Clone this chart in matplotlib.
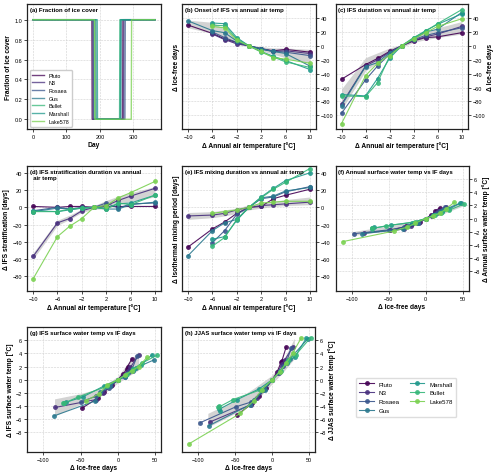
import numpy as np
import matplotlib.pyplot as plt

plt.rcParams['font.family'] = ['Liberation Sans', 'DejaVu Sans']

nan = np.nan

lakes = ['Pluto', 'N3', 'Rosaea', 'Gus', 'Marshall', 'Bullet', 'Lake578']
lakes_a = ['Pluto', 'N3', 'Rosaea', 'Gus', 'Bullet', 'Marshall', 'Lake578']
colors = dict(zip(lakes, plt.cm.viridis(np.linspace(0, 0.8, 7))))

temp_change = [-10, -6, -4, -2, 0, 2, 4, 6, 10]

# (a) ice-off / ice-on day per lake
ice_off = {'Pluto': 176, 'N3': 179, 'Rosaea': 181, 'Gus': 188,
           'Bullet': 185, 'Marshall': 192, 'Lake578': 184}
ice_on = {'Pluto': 268, 'N3': 271, 'Rosaea': 275, 'Gus': 263,
          'Bullet': 259, 'Marshall': 261, 'Lake578': 294}

# (b) onset of IFS
onset = {'Pluto':    [30, 18, 10, 5, 0, -4, -7, -5, -9],
         'N3':       [nan, 17, 9, 3, 0, -4, -8, -7, -11],
         'Rosaea':   [nan, 20, 12, 5, 0, -5, -8, -9, -14],
         'Gus':      [36, 22, 19, 7, 0, -4, -8, -11, -29],
         'Marshall': [nan, 33, 32, 12, 0, -8, -15, -21, -34],
         'Bullet':   [nan, 30, 29, 10, 0, -9, -16, -23, -31],
         'Lake578':  [nan, 28, 26, 8, 0, -8, -17, -19, -25]}

# (c) IFS duration = delta ice-free days
duration = {'Pluto':    [-48, -27, -18, -8, 0, 7, 12, 13, 19],
            'N3':       [-84, -29, -20, -9, 0, 8, 13, 17, 28],
            'Rosaea':   [-97, -49, -29, -12, 0, 9, 15, 19, 26],
            'Gus':      [-86, -30, -24, -10, 0, 10, 20, 24, 48],
            'Marshall': [-70, -72, -47, -18, 0, 11, 22, 31, 46],
            'Bullet':   [-72, -73, -53, -15, 0, 12, 21, 32, 52],
            'Lake578':  [-112, -43, -25, -14, 0, 10, 19, 28, 39]}

# (d) IFS stratification duration
strat = {'Pluto':    [1, 0, 1, 1, 0, 1, 1, 1, 1],
         'N3':       [-57, -18, -13, -4, 0, 2, 8, 13, 22],
         'Rosaea':   [-4, 0, -2, 0, 0, 5, -1, 4, 5],
         'Gus':      [-5, -1, -2, -1, 0, -2, -2, 3, 6],
         'Marshall': [-4, -5, -3, -1, 0, -1, 4, 5, 14],
         'Bullet':   [-5, -5, -2, -1, 0, -2, 5, 3, 14],
         'Lake578':  [-83, -34, -22, -13, 0, 2, 11, 17, 30]}

# (e) isothermal mixing period
mixing = {'Pluto':    [-46, -25, -17, -7, 0, 1, 10, 14, 21],
          'N3':       [-10, -9, -7, -3, 0, 2, 3, 4, 6],
          'Rosaea':   [nan, -41, -27, -8, 0, 10, 12, 18, 24],
          'Gus':      [-56, -27, -18, -14, 0, 11, 13, 19, 23],
          'Marshall': [nan, -37, -34, -15, 0, 12, 22, 31, 40],
          'Bullet':   [nan, -45, -35, -14, 0, 11, 21, 29, 45],
          'Lake578':  [nan, -7, -5, -3, 0, 5, 6, 7, 7]}

# (f) annual surface water temp
annual_wt = {'Pluto':    [-1.8, -1.2, -0.9, -0.5, 0, 0.5, 0.9, 1.2, 1.6],
             'N3':       [-2.2, -1.6, -1.2, -0.6, 0, 0.4, 0.8, 1.2, 1.8],
             'Rosaea':   [-2.3, -1.7, -1.3, -0.6, 0, 0.4, 0.9, 1.2, 1.8],
             'Gus':      [-2.3, -1.6, -1.2, -0.6, 0, 0.5, 1.0, 1.3, 2.4],
             'Marshall': [-1.3, -1.5, -1.0, -0.6, 0, 0.5, 1.0, 1.4, 2.3],
             'Bullet':   [-1.6, -1.5, -1.1, -0.5, 0, 0.5, 0.9, 1.3, 2.2],
             'Lake578':  [-3.5, -1.9, -1.3, -0.7, 0, 0.4, 0.8, 1.5, 2.5]}

# (g) IFS surface water temp
ifs_wt = {'Pluto':    [-4.3, -2.8, -1.8, -0.8, 0, 0.9, 1.6, 2.0, 3.2],
          'N3':       [-4.2, -3.0, -2.0, -0.9, 0, 0.8, 1.4, 1.9, 3.8],
          'Rosaea':   [nan, -3.3, -2.5, -1.2, 0, 0.5, 1.2, 1.6, 3.6],
          'Gus':      [-5.5, -3.2, -1.9, -0.9, 0, 0.4, 1.3, 1.8, 3.0],
          'Marshall': [-3.4, -3.5, -2.6, -0.9, 0, 0.8, 1.6, 2.3, 3.8],
          'Bullet':   [-3.5, -3.6, -2.6, -1.0, 0, 0.9, 1.7, 2.5, 3.7],
          'Lake578':  [nan, -3.2, -2.1, -0.8, 0, 0.7, 1.4, 2.0, 3.4]}

# (h) JJAS surface water temp
jjas_wt = {'Pluto':    [-5.4, -3.6, -2.5, -1.2, 0, 1.2, 2.7, 2.8, 5.0],
           'N3':       [-6.4, -3.8, -2.8, -1.4, 0, 1.1, 2.4, 3.0, 5.0],
           'Rosaea':   [-6.5, -4.1, -3.4, -1.6, 0, 1.0, 2.1, 2.6, 4.9],
           'Gus':      [-7.0, -3.8, -3.1, -1.5, 0, 1.2, 2.6, 3.2, 6.2],
           'Marshall': [-4.7, -4.5, -3.0, -1.4, 0, 1.3, 2.8, 3.5, 6.3],
           'Bullet':   [-4.0, -4.2, -3.0, -1.5, 0, 1.4, 3.0, 3.8, 6.4],
           'Lake578':  [-9.7, -5.1, -3.2, -1.5, 0, 1.2, 2.5, 4.1, 6.3]}

# grey uncertainty bands
band_b = ([26, 18, 10, 2, -1, -7, -12, -17, -25], [37, 34, 24, 12, 1, -1, -3, -3, -5])
band_c = ([-92, -36, -24, -13, -2, 5, 9, 12, 17], [-62, -17, -10, -3, 2, 14, 19, 26, 35])
band_d = ([-60, -21, -14, -6, -2, -2, 3, 7, 12], [-53, -15, -9, -2, 2, 8, 13, 17, 24])
band_e = ([-14, -12, -10, -7, -3, -1, 1, 2, 3], [-6, -5, -3, -1, 3, 5, 7, 9, 12])
band_f_x = [-100, -50, -25, 0, 25, 50]
band_f = ([-2.6, -1.8, -1.1, -0.15, 0.8, 1.9], [-2.0, -1.1, -0.6, 0.15, 1.4, 2.6])
band_g_x = [-85, -50, -25, 0, 15, 28]
band_g = ([-5.5, -3.7, -2.6, -0.5, 0.6, 1.5], [-2.9, -2.1, -1.3, 0.5, 2.8, 4.3])
band_h_x = [-87, -50, -25, 0, 15, 30]
band_h = ([-7.2, -5.1, -3.6, -0.6, 1.2, 3.2], [-5.1, -3.1, -1.3, 0.7, 3.0, 6.3])

fs_tick = 4.0
fs_lab = 4.8
fs_title = 4.3

fig = plt.figure(figsize=(5, 4.77), dpi=100)

W, H = 0.268, 0.262
cols = [0.054, 0.364, 0.671]
rows = [0.727, 0.388, 0.050]


def setup(ax, title, xlabel, ylabel, tick_side='left', label_side='left'):
    ax.text(0.02, 0.975, title, transform=ax.transAxes, ha='left', va='top',
            fontsize=fs_title, fontweight='bold', zorder=10)
    ax.set_xlabel(xlabel, fontsize=fs_lab, fontweight='bold', labelpad=1.5)
    ax.set_ylabel(ylabel, fontsize=fs_lab, fontweight='bold', labelpad=1.5)
    if tick_side == 'right':
        ax.yaxis.tick_right()
    ax.yaxis.set_label_position(label_side)
    ax.tick_params(labelsize=fs_tick, length=2, width=0.5, pad=1.5)
    ax.grid(True, ls='--', lw=0.4, color='#d0d0d0')
    ax.set_axisbelow(True)
    for sp in ax.spines.values():
        sp.set_linewidth(0.9)
        sp.set_color('#222222')


def draw_lakes(ax, xs, ys):
    for lake in lakes:
        x = xs[lake] if isinstance(xs, dict) else xs
        ax.plot(x, ys[lake], '-o', color=colors[lake], lw=0.8, ms=3.5,
                mew=0, alpha=0.9, label=lake, zorder=3)


# (a)
ax = fig.add_axes([cols[0], rows[0], W, H])
for lake in lakes_a:
    d0, d1 = ice_off[lake], ice_on[lake]
    ax.plot([0, d0, d0 + 1, d1, d1 + 1, 365], [1, 1, 0, 0, 1, 1],
            color=colors[lake], lw=1.0, alpha=0.75, label=lake)
ax.set_xlim(-18, 383)
ax.set_ylim(-0.1, 1.155)
ax.set_xticks([0, 100, 200, 300])
ax.set_yticks([0.0, 0.2, 0.4, 0.6, 0.8, 1.0])
setup(ax, '(a) Fraction of ice cover', 'Day', 'Fraction of ice cover')
ax.legend(loc='lower left', fontsize=3.9, frameon=True, handlelength=2.2,
          labelspacing=0.5, borderpad=0.5, framealpha=1, edgecolor='#cccccc')

# (b)
ax = fig.add_axes([cols[1], rows[0], W, H])
ax.fill_between(temp_change, band_b[0], band_b[1], color='#c8c8c8', alpha=0.8, lw=0, zorder=2)
draw_lakes(ax, temp_change, onset)
ax.set_xlim(-11, 11)
ax.set_ylim(-120, 60)
ax.set_xticks([-10, -6, -2, 2, 6, 10])
ax.set_yticks([40, 20, 0, -20, -40, -60, -80, -100])
setup(ax, '(b) Onset of IFS vs annual air temp', 'Δ Annual air temperature [°C]',
      'Δ Ice-free days', 'right', 'left')

# (c)
ax = fig.add_axes([cols[2], rows[0], W - 0.004, H])
ax.fill_between(temp_change, band_c[0], band_c[1], color='#c8c8c8', alpha=0.8, lw=0, zorder=2)
draw_lakes(ax, temp_change, duration)
ax.set_xlim(-11, 11)
ax.set_ylim(-120, 60)
ax.set_xticks([-10, -6, -2, 2, 6, 10])
ax.set_yticks([40, 20, 0, -20, -40, -60, -80, -100])
setup(ax, '(c) IFS duration vs annual air temp', 'Δ Annual air temperature [°C]',
      'Δ Ice-free days', 'right', 'right')

# (d)
ax = fig.add_axes([cols[0], rows[1], W, H])
ax.fill_between(temp_change, band_d[0], band_d[1], color='#c8c8c8', alpha=0.8, lw=0, zorder=2)
draw_lakes(ax, temp_change, strat)
ax.set_xlim(-11, 11)
ax.set_ylim(-97, 48)
ax.set_xticks([-10, -6, -2, 2, 6, 10])
ax.set_yticks([40, 20, 0, -20, -40, -60, -80])
setup(ax, '(d) IFS stratification duration vs annual\n  air temp',
      'Δ Annual air temperature [°C]', 'Δ IFS stratification [days]')

# (e)
ax = fig.add_axes([cols[1], rows[1], W, H])
ax.fill_between(temp_change, band_e[0], band_e[1], color='#c8c8c8', alpha=0.8, lw=0, zorder=2)
draw_lakes(ax, temp_change, mixing)
ax.set_xlim(-11, 11)
ax.set_ylim(-97, 48)
ax.set_xticks([-10, -6, -2, 2, 6, 10])
ax.set_yticks([40, 20, 0, -20, -40, -60, -80])
setup(ax, '(e) IFS mixing duration vs annual air temp', 'Δ Annual air temperature [°C]',
      'Δ Isothermal mixing period [days]', 'right', 'left')

# (f)
ax = fig.add_axes([cols[2], rows[1], W - 0.002, H])
ax.fill_between(band_f_x, band_f[0], band_f[1], color='#c8c8c8', alpha=0.8, lw=0, zorder=2)
draw_lakes(ax, duration, annual_wt)
ax.set_xlim(-122, 58)
ax.set_ylim(-11, 8)
ax.set_xticks([-100, -50, 0, 50])
ax.set_yticks([6, 4, 2, 0, -2, -4, -6, -8])
setup(ax, '(f) Annual surface water temp vs IF days', 'Δ Ice-free days',
      'Δ Annual surface water temp [°C]', 'right', 'right')

# (g)
ax = fig.add_axes([cols[0], rows[2], W, H])
ax.fill_between(band_g_x, band_g[0], band_g[1], color='#c8c8c8', alpha=0.8, lw=0, zorder=2)
draw_lakes(ax, duration, ifs_wt)
ax.set_xlim(-122, 58)
ax.set_ylim(-11, 8)
ax.set_xticks([-100, -50, 0, 50])
ax.set_yticks([6, 4, 2, 0, -2, -4, -6, -8])
setup(ax, '(g) IFS surface water temp vs IF days', 'Δ Ice-free days',
      'Δ IFS surface water temp [°C]')

# (h)
ax = fig.add_axes([cols[1], rows[2], W - 0.002, H])
ax.fill_between(band_h_x, band_h[0], band_h[1], color='#c8c8c8', alpha=0.8, lw=0, zorder=2)
draw_lakes(ax, duration, jjas_wt)
ax.set_xlim(-122, 58)
ax.set_ylim(-11, 8)
ax.set_xticks([-100, -50, 0, 50])
ax.set_yticks([6, 4, 2, 0, -2, -4, -6, -8])
setup(ax, '(h) JJAS surface water temp vs IF days', 'Δ Ice-free days',
      'Δ JJAS surface water temp [°C]', 'right', 'right')

handles, labels = ax.get_legend_handles_labels()
fig.legend(handles, labels, ncol=2, loc='center', bbox_to_anchor=(0.812, 0.165),
           fontsize=4.4, frameon=True, edgecolor='#dddddd', framealpha=1,
           handlelength=2.4, labelspacing=0.6, columnspacing=1.6, borderpad=0.6)

fig.savefig('out.png', dpi=100)
